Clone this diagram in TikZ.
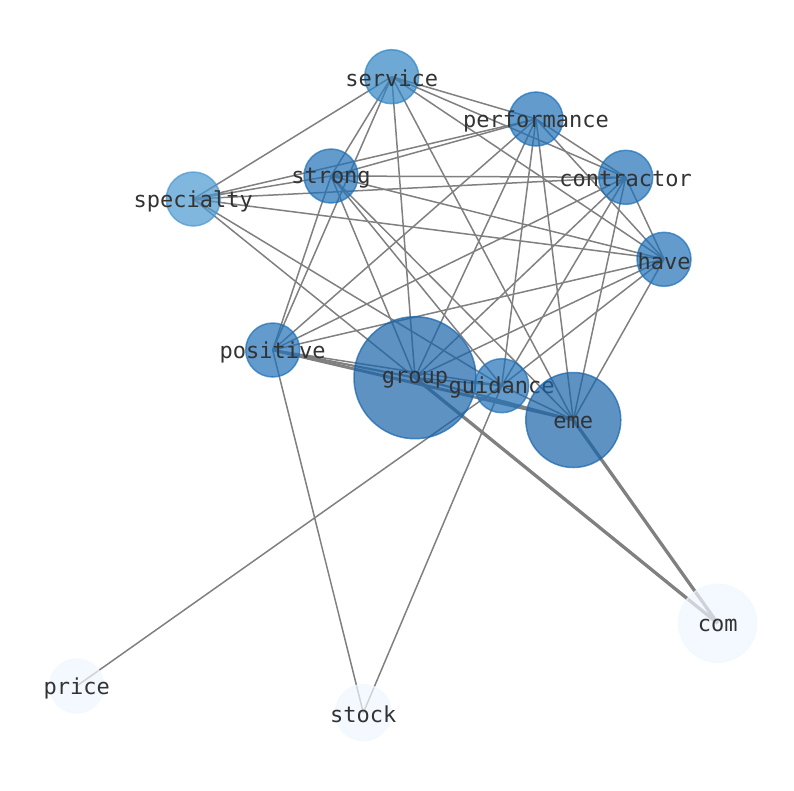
\documentclass[tikz,border=0pt]{standalone}
\usepackage{fontspec}
\setmonofont{DejaVu Sans Mono}
\usetikzlibrary{backgrounds}
\definecolor{bluedeep}{RGB}{24,100,170}
\definecolor{bluemid}{RGB}{31,112,183}
\definecolor{bluesoft}{RGB}{48,133,196}
\definecolor{bluepale}{RGB}{74,152,208}
\definecolor{bluewhite}{RGB}{240,247,255}
\tikzset{every picture/.style={line width=1.5pt}}
\tikzset{
  word/.style={circle, inner sep=0pt, minimum size=54pt, fill opacity=0.7, draw opacity=0.7},
  wordtext/.style={text=black!80, fill opacity=1, text opacity=1, inner sep=0pt, yshift=-2pt, font=\ttfamily\fontsize{22}{26}\selectfont},
  link/.style={draw=black!50, line width=1.5pt},
  heavy/.style={link, line width=3.3pt}
}

\begin{document}
\begin{tikzpicture}[x=1pt, y=-1pt]
          \useasboundingbox (0,0) rectangle (794,790);
          % words
          \node[word, fill=bluesoft, draw=bluesoft, label={[wordtext]center:service}] (service) at (391.7,76.7) {};
          \node[word, fill=bluemid, draw=bluemid, label={[wordtext]center:performance}] (performance) at (536,119) {};
          \node[word, fill=bluemid, draw=bluemid, label={[wordtext]center:contractor}] (contractor) at (625.7,177.3) {};
          \node[word, fill=bluemid, draw=bluemid, label={[wordtext]center:strong}] (strong) at (331,176) {};
          \node[word, fill=bluepale, draw=bluepale, label={[wordtext]center:specialty}] (specialty) at (193.3,199) {};
          \node[word, fill=bluemid, draw=bluemid, label={[wordtext]center:have}] (have) at (664,259.3) {};
          \node[word, fill=bluemid, draw=bluemid, label={[wordtext]center:positive}] (positive) at (272.7,350) {};
          \node[word, fill=bluedeep, draw=bluedeep, minimum size=122pt, label={[wordtext]center:group}] (group) at (415,377.7) {};
          \node[word, fill=bluemid, draw=bluemid, label={[wordtext]center:guidance}] (guidance) at (501.7,385.7) {};
          \node[word, fill=bluedeep, draw=bluedeep, minimum size=95pt, label={[wordtext]center:eme}] (eme) at (573.3,420) {};
          \node[word, fill=bluewhite, draw=bluewhite, minimum size=78pt, label={[wordtext]center:com}] (com) at (717.7,623.3) {};
          \node[word, fill=bluewhite, draw=bluewhite, label={[wordtext]center:price}] (price) at (76.7,686) {};
          \node[word, fill=bluewhite, draw=bluewhite, minimum size=56pt, label={[wordtext]center:stock}] (stock) at (363.3,712.7) {};
          % links
          \begin{scope}[on background layer]
          \draw[link] (service.center) -- (specialty.center) (service.center) -- (strong.center) (service.center) -- (positive.center) (service.center) -- (group.center);
          \draw[link] (service.center) -- (eme.center) (service.center) -- (performance.center) (service.center) -- (contractor.center) (service.center) -- (have.center);
          \draw[link] (specialty.center) -- (strong.center) (specialty.center) -- (performance.center) (specialty.center) -- (contractor.center);
          \draw[link] (specialty.center) -- (have.center) (specialty.center) -- (group.center) (specialty.center) -- (guidance.center);
          \draw[link] (strong.center) -- (performance.center) (strong.center) -- (contractor.center) (strong.center) -- (have.center) (strong.center) -- (positive.center);
          \draw[link] (strong.center) -- (group.center) (strong.center) -- (guidance.center) (strong.center) -- (eme.center);
          \draw[link] (performance.center) -- (contractor.center) (performance.center) -- (have.center) (performance.center) -- (positive.center);
          \draw[link] (performance.center) -- (group.center) (performance.center) -- (guidance.center) (performance.center) -- (eme.center);
          \draw[link] (contractor.center) -- (have.center) (contractor.center) -- (positive.center) (contractor.center) -- (group.center);
          \draw[link] (contractor.center) -- (guidance.center) (contractor.center) -- (eme.center);
          \draw[link] (have.center) -- (positive.center) (have.center) -- (group.center) (have.center) -- (guidance.center) (have.center) -- (eme.center);
          \draw[link] (positive.center) -- (guidance.center) (positive.center) -- (stock.center);
          \draw[link, line width=2.2pt] (positive.center) -- (group.center) (group.center) -- (eme.center);
          \draw[link, line width=3pt] (positive.center) -- (eme.center);
          \draw[link] (group.center) -- (guidance.center) (guidance.center) -- (eme.center);
          \draw[link] (guidance.center) -- (price.center) (guidance.center) -- (stock.center);
          \draw[heavy] (group.center) -- (com.center) (eme.center) -- (com.center);
          \end{scope}
        \end{tikzpicture}
\end{document}
